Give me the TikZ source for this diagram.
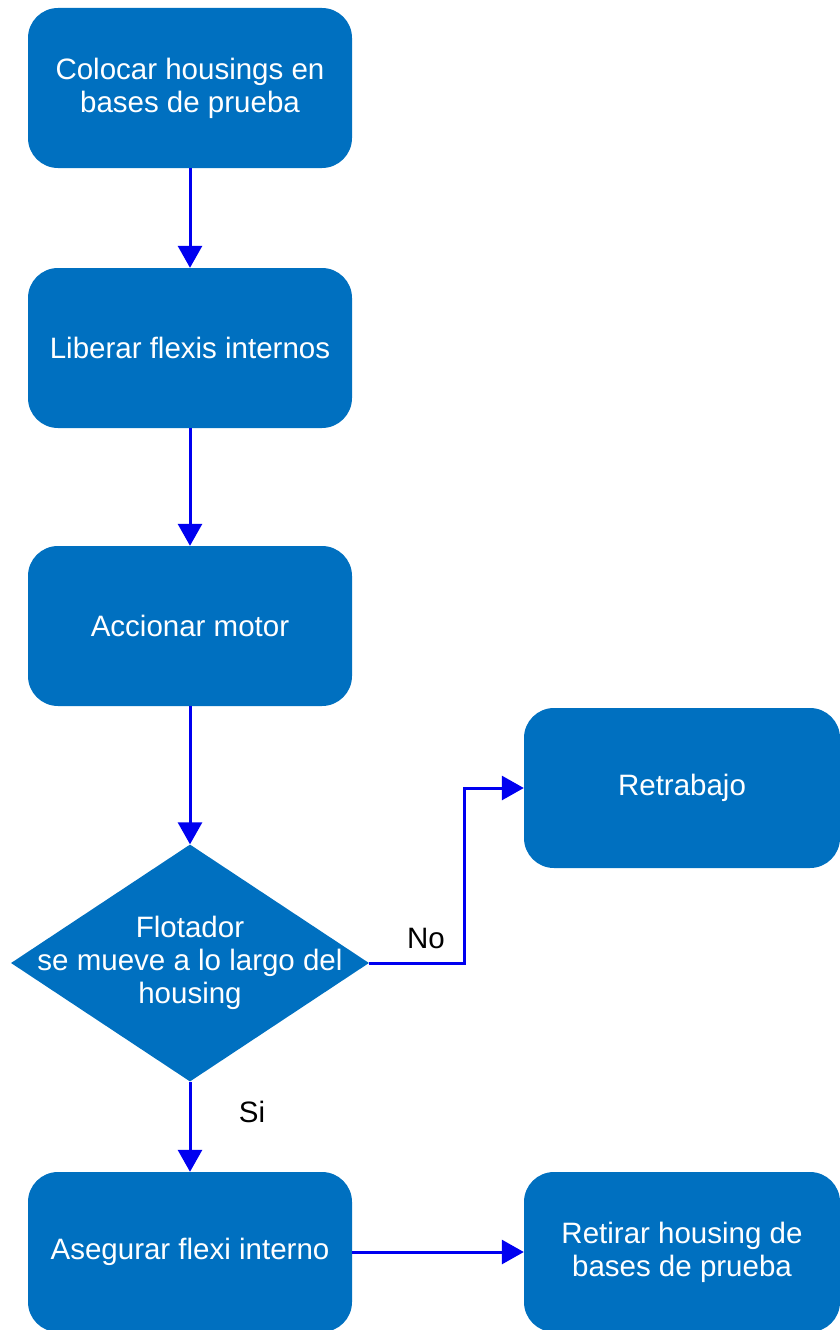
\documentclass[tikz,border=0pt]{standalone}
\usepackage{fontspec}
\setmainfont{Liberation Sans}
\usetikzlibrary{shapes.geometric,arrows.meta}
\definecolor{boxblue}{RGB}{0,112,192}
\definecolor{arrowblue}{RGB}{0,0,240}
\begin{document}
\begin{tikzpicture}[x=1pt,y=-1pt,
  txt/.style={font=\fontsize{29.5}{33}\selectfont},
  proc/.style={draw=none,fill=boxblue,rounded corners=30pt,minimum width=324pt,minimum height=160pt,
    text=white,align=center,txt,inner sep=0pt},
  decision/.style={diamond,fill=boxblue,minimum width=358pt,minimum height=237pt,inner sep=0pt},
  conn/.style={draw=arrowblue,line width=3pt,-{Triangle[length=22pt,width=24pt]}},
  lab/.style={txt,text=black}]
\useasboundingbox (0,0) rectangle (839,1330);
\node[proc] (b1) at (190,88) {Colocar housings en\\bases de prueba};
\node[proc] (b2) at (190,348) {Liberar flexis internos};
\node[proc] (b3) at (190,626) {Accionar motor};
\node[decision] (d) at (190,963) {};
\node[text=white,align=center,txt] (dt) at (d.center) {Flotador\\se mueve a lo largo del\\housing};
\node[proc,minimum width=316pt] (r) at (682,788) {Retrabajo};
\node[proc] (b4) at (190,1252) {Asegurar flexi interno};
\node[proc,minimum width=316pt] (b5) at (682,1252) {Retirar housing de\\bases de prueba};
\draw[conn] (b1.south) -- (b2.north);
\draw[conn] (b2.south) -- (b3.north);
\draw[conn] (b3.south) -- (d.north);
\draw[conn] (d.east) -- (464,963) |- (r.west);
\draw[conn] (d.south) -- (b4.north);
\draw[conn] (b4.east) -- (b5.west);
\node[lab] (no) at (426,938) {No};
\node[lab] (si) at (252,1112) {Si};
\end{tikzpicture}
\end{document}
